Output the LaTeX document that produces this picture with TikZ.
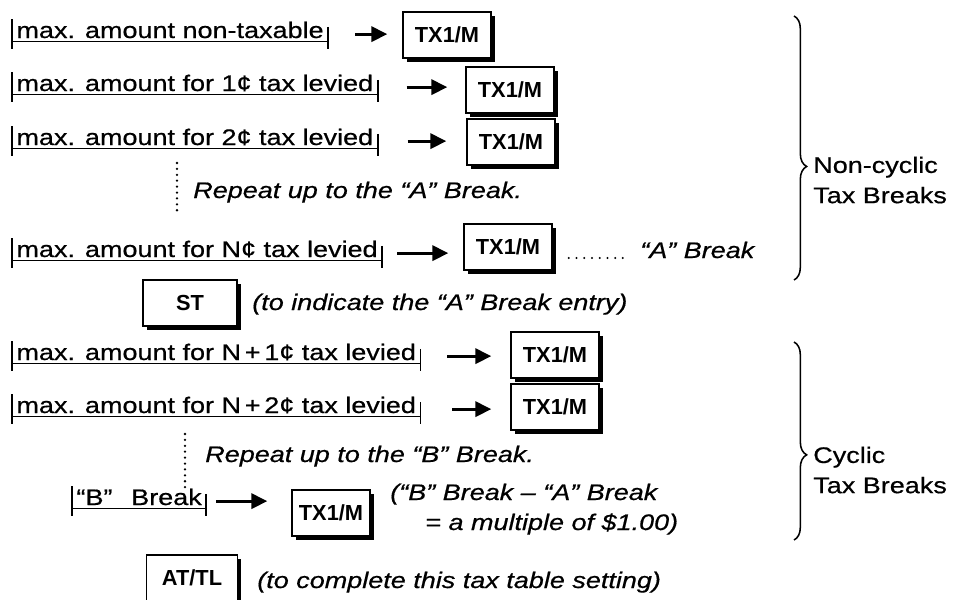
\documentclass[tikz,border=0pt]{standalone}
\usepackage{fontspec}
\setmainfont{Liberation Sans}[FakeStretch=1.2,FakeBold=0.6]
\newfontfamily\keyfont{Liberation Sans}
\usetikzlibrary{positioning,arrows.meta,calc,decorations.pathreplacing,shadows}
\newcommand\mainsize{\fontsize{16}{21.5}\selectfont}

\begin{document}
\begin{tikzpicture}[x=0.025cm,y=-0.025cm,font=\mainsize,
   bar/.style={line width=1.2pt},
   amt/.style={anchor=base west,inner xsep=3pt,inner ysep=0pt,text height=13pt,text depth=7.5pt,font=\mainsize,
     append after command={(\tikzlastnode.north west) edge[bar] (\tikzlastnode.south west)
       ([yshift=-2.5pt]\tikzlastnode.base west) edge[bar] ([yshift=-2.5pt]\tikzlastnode.base east)
       ([yshift=8pt]\tikzlastnode.base east) edge[bar] (\tikzlastnode.south east)}},
   key/.style={draw,fill=white,line width=1pt,minimum width=2.2cm,minimum height=1.15cm,inner sep=0pt,
     font=\keyfont\bfseries\fontsize{15.5}{17}\selectfont,
     drop shadow={shadow xshift=2.5pt,shadow yshift=-2.5pt,fill=black,opacity=1}},
   go/.style={-{Triangle[length=4mm,width=3.8mm]},line width=2.2pt},
   note/.style={anchor=base west,inner sep=0pt,font=\mainsize\itshape},
   lab/.style={anchor=west,align=left,inner sep=0pt,font=\mainsize},
   dotrow/.style={line width=1.6pt,line cap=round,dash pattern=on 0pt off 5.5pt},
   dotcol/.style={line width=1.8pt,line cap=round,dash pattern=on 0pt off 4.2pt},
   brc/.style={decorate,decoration={brace,amplitude=9pt,aspect=0.57},line width=1.1pt}]
  \useasboundingbox (0,0) rectangle (959,599);
  % non-cyclic breaks
  \node[amt] (a1) at (12,38)  {max. amount non-taxable};
  \node[key] (k1) at (447,35) {TX1/M};
  \node[amt] (a2) at (12,91)  {max. amount for 1¢ tax levied};
  \node[key] (k2) at (510,90) {TX1/M};
  \node[amt] (a3) at (12,145) {max. amount for 2¢ tax levied};
  \node[key] (k3) at (511,142) {TX1/M};
  \coordinate (d1t) at (177,163);
  \coordinate (d1b) at (177,212);
  \node[note] (r1) at (193,198) {Repeat up to the “A” Break.};
  \node[amt] (a4) at (12,257) {max. amount for N¢ tax levied};
  \node[key] (k4) at (508,247) {TX1/M};
  \node[note] (ab) at (640,258) {“A” Break};
  \node[key,minimum width=2.35cm] (st) at (190,303) {ST};
  \node[note] (n1) at (252,310) {(to indicate the “A” Break entry)};
  \draw[go,shorten <=6.75mm,shorten >=3.75mm] (a1.east) -- (a1.east -| k1.west);
  \draw[go,shorten <=7.25mm,shorten >=4.5mm] (a2.east) -- (a2.east -| k2.west);
  \draw[go,shorten <=7.5mm,shorten >=5mm] (a3.east) -- (a3.east -| k3.west);
  \draw[go,shorten <=3.75mm,shorten >=3.75mm] (a4.east) -- (a4.east -| k4.west);
  \draw[dotcol] (d1t) -- (d1b);
  \draw[dotrow,shorten <=4mm,shorten >=4mm] (k4.east |- ab.base) -- (ab.base west);
  % cyclic breaks
  \node[amt] (a5) at (12,360) {max. amount for N\,+\,1¢ tax levied};
  \node[key] (k5) at (555,355) {TX1/M};
  \node[amt] (a6) at (12,413) {max. amount for N\,+\,2¢ tax levied};
  \node[key] (k6) at (555,407) {TX1/M};
  \coordinate (d2t) at (185,434);
  \coordinate (d2b) at (185,490);
  \node[note] (r2) at (205,462) {Repeat up to the “B” Break.};
  \node[amt] (a7) at (72,505) {“B”\ \ \,Break};
  \node[key,minimum width=1.95cm] (k7) at (331,513) {TX1/M};
  \node[note] (n2) at (390,500) {(“B” Break -- “A” Break};
  \node[note] (n3) at (425,530) {= a multiple of \$1.00)};
  \node[key,minimum width=2.28cm] (at) at (192,578) {AT/TL};
  \node[note] (n4) at (257,588) {(to complete this tax table setting)};
  \draw[go,shorten <=6.75mm,shorten >=4.75mm] (a5.east) -- (a5.east -| k5.west);
  \draw[go,shorten <=8mm,shorten >=4.75mm] (a6.east) -- (a6.east -| k6.west);
  \draw[go,shorten <=2.5mm,shorten >=6mm] (a7.east) -- (a7.east -| k7.west);
  \draw[dotcol] (d2t) -- (d2b);
  % braces
  \coordinate (b1t) at (794,16);
  \coordinate (b1b) at (794,280);
  \coordinate (b2t) at (794,342);
  \coordinate (b2b) at (794,540);
  \draw[brc] (b1t) -- (b1b);
  \draw[brc] (b2t) -- (b2b);
  \node[lab] (l1) at (813,180) {Non-cyclic\\Tax Breaks};
  \node[lab] (l2) at (813,470) {Cyclic\\Tax Breaks};
\end{tikzpicture}
\end{document}
